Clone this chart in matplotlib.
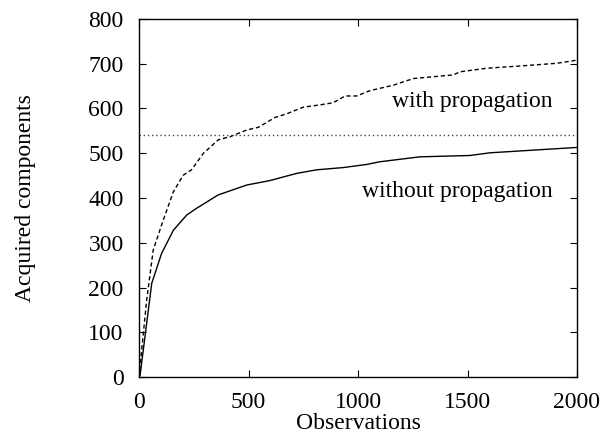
import matplotlib
matplotlib.use("Agg")
import matplotlib.pyplot as plt

# Data
obs_without = [0, 5, 58, 103, 157, 218, 263, 362, 492, 598, 720, 811, 933, 1040, 1100, 1283, 1511, 1603, 2000]
acq_without = [0, 4, 209, 276, 328, 362, 377, 407, 429, 439, 455, 463, 468, 475, 481, 492, 495, 501, 513]

obs_with = [0, 35, 65, 111, 157, 202, 240, 294, 362, 416, 492, 545, 621, 674, 750, 826, 887, 941, 994,
            1055, 1161, 1253, 1435, 1466, 1588, 1740, 1907, 2000]
acq_with = [0, 172, 284, 351, 414, 451, 463, 500, 530, 537, 552, 558, 580, 588, 603, 608, 613, 628, 628,
            640, 652, 667, 675, 682, 690, 695, 701, 708]

threshold = 540

x_ticks = [0, 500, 1000, 1500, 2000]
y_ticks = [0, 100, 200, 300, 400, 500, 600, 700, 800]

FS = 17
plt.rcParams['font.family'] = ['Liberation Serif', 'DejaVu Serif']
plt.rcParams['font.size'] = FS

fig = plt.figure(figsize=(6.02, 4.36), dpi=100)
ax = fig.add_axes([139/602, 1-377/436, (577-139)/602, (377-19)/436])

ax.plot(obs_without, acq_without, color='black', lw=1.0, linestyle='-')
ax.plot(obs_with, acq_with, color='black', lw=1.0, linestyle=(0, (3, 2)))
ax.axhline(threshold, color='#444444', lw=1.0, linestyle=(0, (1, 2)))

ax.set_xlim(0, 2000)
ax.set_ylim(0, 800)
ax.set_xticks(x_ticks)
ax.set_yticks(y_ticks)
ax.tick_params(direction='in', top=True, right=True, length=5, width=0.8, labelsize=FS, pad=11)
for s in ax.spines.values():
    s.set_linewidth(1.0)

ax.text(1890, 603, 'with propagation', ha='right', va='baseline', fontsize=FS)
ax.text(1890, 402, 'without propagation', ha='right', va='baseline', fontsize=FS)

ax.set_xlabel('Observations', fontsize=FS, labelpad=0)
ax.set_ylabel('Acquired components', fontsize=FS, labelpad=38)

fig.savefig('out.png', dpi=100)
